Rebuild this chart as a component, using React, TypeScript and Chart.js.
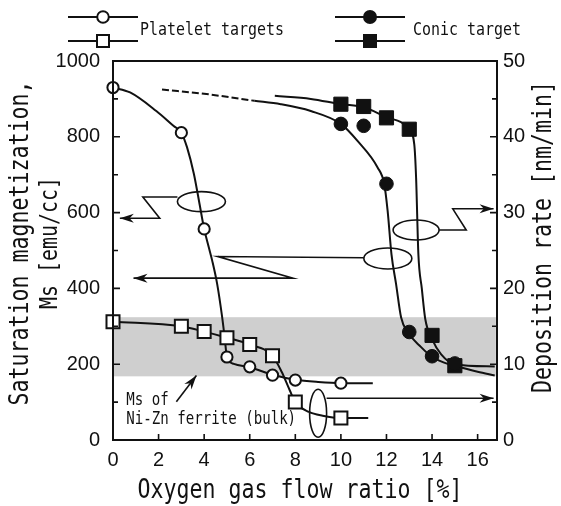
import React, { useEffect, useRef } from "react";
import { Chart, registerables } from "chart.js";

Chart.register(...registerables);

// ---------------- data ----------------
const xTicks = [0, 2, 4, 6, 8, 10, 12, 14, 16];
const msTicks = [0, 200, 400, 600, 800, 1000];
const rateTicks = [0, 10, 20, 30, 40, 50];
const xMax = 16.85;

// measured points
const plateletX = [0, 3, 4, 5, 6, 7, 8, 10];
const plateletMs = [930, 811, 557, 219, 193, 171, 158, 150];
const plateletRate = [15.6, 15.0, 14.3, 13.5, 12.6, 11.1, 5.0, 2.9];

const conicX = [10, 11, 12, 13, 14, 15];
const conicMs = [834, 829, 676, 285, 221, 202];
const conicRate = [44.3, 44.0, 42.5, 41.0, 13.8, 9.8];

// hand-drawn guide curves
const plateletMsFitX = [0, 0.75, 1.9, 2.65, 3, 3.25, 3.55, 3.77, 4, 4.2, 4.35, 4.57, 4.79, 4.9, 5, 5.3, 6, 7, 8, 9, 10, 11.4];
const plateletMsFitY = [930, 917, 868, 829, 811, 772, 702, 632, 557, 509, 474, 412, 324, 270, 219, 201, 192, 172, 159, 153, 150, 150];

const plateletRateFitX = [0, 3, 4, 5, 6, 7, 7.4, 7.75, 8, 8.6, 9.2, 10, 11.2];
const plateletRateFitY = [15.6, 15.0, 14.3, 13.5, 12.6, 11.1, 9.0, 6.6, 5.0, 3.7, 3.2, 2.9, 2.9];

const conicMsDashX = [2.15, 4.2, 6.2];
const conicMsDashY = [925, 912, 895];
const conicMsFitX = [6.2, 7.36, 8.68, 10, 10.73, 11.61, 11.9, 12.05, 12.22, 12.42, 12.64, 12.93, 13.52, 13.96, 14.5, 15, 16, 16.75];
const conicMsFitY = [895, 886, 868, 834, 789, 719, 676, 605, 490, 412, 324, 285, 245, 221, 205, 196, 180, 170];

const conicRateFitX = [7.1, 8.68, 10, 11, 12, 13, 13.22, 13.3, 13.4, 13.55, 13.7, 14, 14.4, 15, 16.75];
const conicRateFitY = [45.4, 45.0, 44.3, 43.9, 42.6, 41.0, 39.0, 34.6, 24.5, 20.0, 16.0, 13.3, 11.3, 10.0, 9.7];

// Ms of bulk Ni-Zn ferrite (shaded band)
const ferriteBandMs = [168, 324];
const ferriteBandX = [0, 16.8];

// ---------------- helpers ----------------
const zip = (xs: number[], ys: number[]) => xs.map((x, i) => ({ x, y: ys[i] }));
const INK = "#111";
const MONO = "'DejaVu Sans Mono', 'Liberation Mono', monospace";
const SANS = "'Liberation Sans', Arial, sans-serif";

function gothic(ctx: CanvasRenderingContext2D, text: string, x: number, y: number, size: number, align: CanvasTextAlign, rot = 0) {
  ctx.save();
  ctx.translate(x, y);
  if (rot) ctx.rotate(rot);
  ctx.scale(0.83, 1);
  ctx.font = `${size}px ${MONO}`;
  ctx.textAlign = align;
  ctx.textBaseline = "middle";
  ctx.fillStyle = INK;
  ctx.fillText(text, 0, 0);
  ctx.restore();
}

function arrowHead(ctx: CanvasRenderingContext2D, fx: number, fy: number, tx: number, ty: number) {
  const a = Math.atan2(ty - fy, tx - fx);
  const L = 14, W = 4.5;
  ctx.save();
  ctx.translate(tx, ty);
  ctx.rotate(a);
  ctx.beginPath();
  ctx.moveTo(0, 0);
  ctx.lineTo(-L, -W);
  ctx.lineTo(-L * 0.7, 0);
  ctx.lineTo(-L, W);
  ctx.closePath();
  ctx.fillStyle = INK;
  ctx.fill();
  ctx.restore();
}

function polyArrow(ctx: CanvasRenderingContext2D, pts: number[][]) {
  ctx.beginPath();
  ctx.moveTo(pts[0][0], pts[0][1]);
  for (let i = 1; i < pts.length; i++) ctx.lineTo(pts[i][0], pts[i][1]);
  ctx.stroke();
  const n = pts.length;
  arrowHead(ctx, pts[n - 2][0], pts[n - 2][1], pts[n - 1][0], pts[n - 1][1]);
}

const decor = {
  id: "decor",
  beforeDatasetsDraw(chart: any) {
    const { ctx, scales } = chart;
    const x = scales.x, yL = scales.yL;
    ctx.save();
    ctx.fillStyle = "#cfcfcf";
    const x0 = x.getPixelForValue(ferriteBandX[0]);
    const x1 = x.getPixelForValue(ferriteBandX[1]);
    const y0 = yL.getPixelForValue(ferriteBandMs[1]);
    const y1 = yL.getPixelForValue(ferriteBandMs[0]);
    ctx.fillRect(x0, y0, x1 - x0, y1 - y0);
    ctx.restore();
  },
  afterDatasetsDraw(chart: any) {
    const { ctx, chartArea: a, scales } = chart;
    const X = (v: number) => scales.x.getPixelForValue(v);
    const M = (v: number) => scales.yL.getPixelForValue(v);
    const R = (v: number) => scales.yR.getPixelForValue(v);
    ctx.save();
    ctx.strokeStyle = INK;
    ctx.lineWidth = 2;
    // frame
    ctx.strokeRect(a.left, a.top, a.right - a.left, a.bottom - a.top);
    // inward ticks
    ctx.lineWidth = 1.6;
    ctx.beginPath();
    for (let v = 2; v <= 16; v += 2) {
      ctx.moveTo(X(v), a.bottom);
      ctx.lineTo(X(v), a.bottom - 6);
    }
    for (let v = 100; v < 1000; v += 100) {
      const len = v % 200 === 0 ? 7 : 5;
      ctx.moveTo(a.left, M(v));
      ctx.lineTo(a.left + len, M(v));
    }
    for (let v = 5; v < 50; v += 5) {
      const len = v % 10 === 0 ? 7 : 5;
      ctx.moveTo(a.right, R(v));
      ctx.lineTo(a.right - len, R(v));
    }
    ctx.stroke();

    // annotations: ellipses + leaders
    ctx.lineWidth = 1.6;
    const ell = (cx: number, cy: number, rx: number, ry: number) => {
      ctx.beginPath();
      ctx.ellipse(cx, cy, rx, ry, 0, 0, Math.PI * 2);
      ctx.stroke();
    };
    ell(X(3.88), M(629), 24, 10);
    polyArrow(ctx, [[X(3.88) - 24, M(641)], [X(1.31), M(641)], [X(2.05), M(585)], [X(0.3), M(585)]]);

    ell(X(12.06), M(479), 24, 10.5);
    polyArrow(ctx, [[X(12.06) - 24, M(481)], [X(4.6), M(484)], [X(7.9), M(427)], [X(0.9), M(427)]]);

    ell(X(13.3), R(27.7), 23, 10);
    polyArrow(ctx, [[X(13.3) + 23, R(27.7)], [X(15.5), R(27.7)], [X(14.91), R(30.5)], [X(16.7), R(30.5)]]);

    ell(X(9.0), R(3.52), 8.5, 24);
    polyArrow(ctx, [[X(9.0) + 8.5, R(5.5)], [X(16.7), R(5.5)]]);

    polyArrow(ctx, [[X(2.78), M(101)], [X(3.66), M(170)]]);
    gothic(ctx, "Ms of", X(0.58), M(105), 17, "left");
    gothic(ctx, "Ni-Zn ferrite (bulk)", X(0.58), M(53), 17, "left");
    ctx.restore();
  },
  afterDraw(chart: any) {
    const { ctx } = chart;
    ctx.save();
    ctx.strokeStyle = INK;
    ctx.fillStyle = INK;
    ctx.lineWidth = 2;
    // legend
    const row = (x0: number, x1: number, y: number) => {
      ctx.beginPath();
      ctx.moveTo(x0, y);
      ctx.lineTo(x1, y);
      ctx.stroke();
    };
    row(68, 138, 17);
    row(68, 138, 41);
    row(335, 405, 17);
    row(335, 405, 41);
    ctx.beginPath();
    ctx.arc(103, 17, 5.8, 0, Math.PI * 2);
    ctx.fillStyle = "#fff";
    ctx.fill();
    ctx.stroke();
    ctx.fillRect(97, 35, 12, 12);
    ctx.strokeRect(97, 35, 12, 12);
    ctx.fillStyle = INK;
    ctx.beginPath();
    ctx.arc(370, 17, 7, 0, Math.PI * 2);
    ctx.fill();
    ctx.fillRect(363, 34, 14, 14);
    gothic(ctx, "Platelet targets", 140, 30, 18, "left");
    gothic(ctx, "Conic target", 413, 30, 18, "left");

    // axis titles
    gothic(ctx, "Oxygen gas flow ratio [%]", 300, 491, 26, "center");
    gothic(ctx, "Saturation magnetization,", 21, 243, 26, "center", -Math.PI / 2);
    gothic(ctx, "Ms [emu/cc]", 51, 243, 24, "center", -Math.PI / 2);
    gothic(ctx, "Deposition rate [nm/min]", 544, 237, 26, "center", -Math.PI / 2);
    ctx.restore();
  },
};

const plain = (v: any) => String(v);

export default function App() {
  const ref = useRef<HTMLCanvasElement | null>(null);

  useEffect(() => {
    if (!ref.current) return;
    const curve = (data: any[], yAxisID: string, dash: number[] = []) => ({
      data,
      yAxisID,
      showLine: true,
      pointRadius: 0,
      borderColor: INK,
      borderWidth: 2,
      borderDash: dash,
      cubicInterpolationMode: "monotone",
      fill: false,
    });
    const marks = (data: any[], yAxisID: string, style: string, r: number, filled: boolean) => ({
      data,
      yAxisID,
      showLine: false,
      pointStyle: style,
      pointRadius: r,
      pointBackgroundColor: filled ? INK : "#fff",
      pointBorderColor: INK,
      pointBorderWidth: filled ? 1 : 2,
      clip: false,
    });

    const chart = new Chart(ref.current, {
      type: "scatter",
      data: {
        datasets: [
          marks(zip(plateletX, plateletMs), "yL", "circle", 5.6, false),
          marks(zip(plateletX, plateletRate), "yR", "rect", 9.2, false),
          marks(zip(conicX, conicMs), "yL", "circle", 6.8, true),
          marks(zip(conicX, conicRate), "yR", "rect", 10, true),
          curve(zip(plateletMsFitX, plateletMsFitY), "yL"),
          curve(zip(plateletRateFitX, plateletRateFitY), "yR"),
          curve(zip(conicMsDashX, conicMsDashY), "yL", [7, 3]),
          curve(zip(conicMsFitX, conicMsFitY), "yL"),
          curve(zip(conicRateFitX, conicRateFitY), "yR"),
        ] as any,
      },
      options: {
        animation: false,
        responsive: false,
        maintainAspectRatio: false,
        layout: { padding: { top: 61, left: 0, right: 0, bottom: 0 } },
        plugins: { legend: { display: false }, tooltip: { enabled: false } },
        scales: {
          x: {
            type: "linear",
            min: 0,
            max: xMax,
            afterBuildTicks: (s: any) => { s.ticks = xTicks.map((v) => ({ value: v })); },
            afterFit: (s: any) => { s.height = 66; },
            grid: { display: false, drawTicks: false },
            border: { display: false },
            ticks: { color: INK, font: { family: SANS, size: 20 }, padding: 8, maxRotation: 0, autoSkip: false, callback: plain },
          },
          yL: {
            type: "linear",
            position: "left",
            min: 0,
            max: 1000,
            afterBuildTicks: (s: any) => { s.ticks = msTicks.map((v) => ({ value: v })); },
            afterFit: (s: any) => { s.width = 113; },
            grid: { display: false, drawTicks: false },
            border: { display: false },
            ticks: { color: INK, font: { family: SANS, size: 20 }, padding: 13, autoSkip: false, callback: plain },
          },
          yR: {
            type: "linear",
            position: "right",
            min: 0,
            max: 50,
            afterBuildTicks: (s: any) => { s.ticks = rateTicks.map((v) => ({ value: v })); },
            afterFit: (s: any) => { s.width = 64; },
            grid: { display: false, drawTicks: false },
            border: { display: false },
            ticks: { color: INK, font: { family: SANS, size: 20 }, padding: 6, autoSkip: false, callback: plain },
          },
        },
      } as any,
      plugins: [decor],
    });
    return () => chart.destroy();
  }, []);

  return (
    <div style={{ position: "absolute", left: 0, top: 0, width: 561, height: 506, background: "#fff" }}>
      <canvas ref={ref} width={561} height={506} style={{ display: "block" }} />
    </div>
  );
}
